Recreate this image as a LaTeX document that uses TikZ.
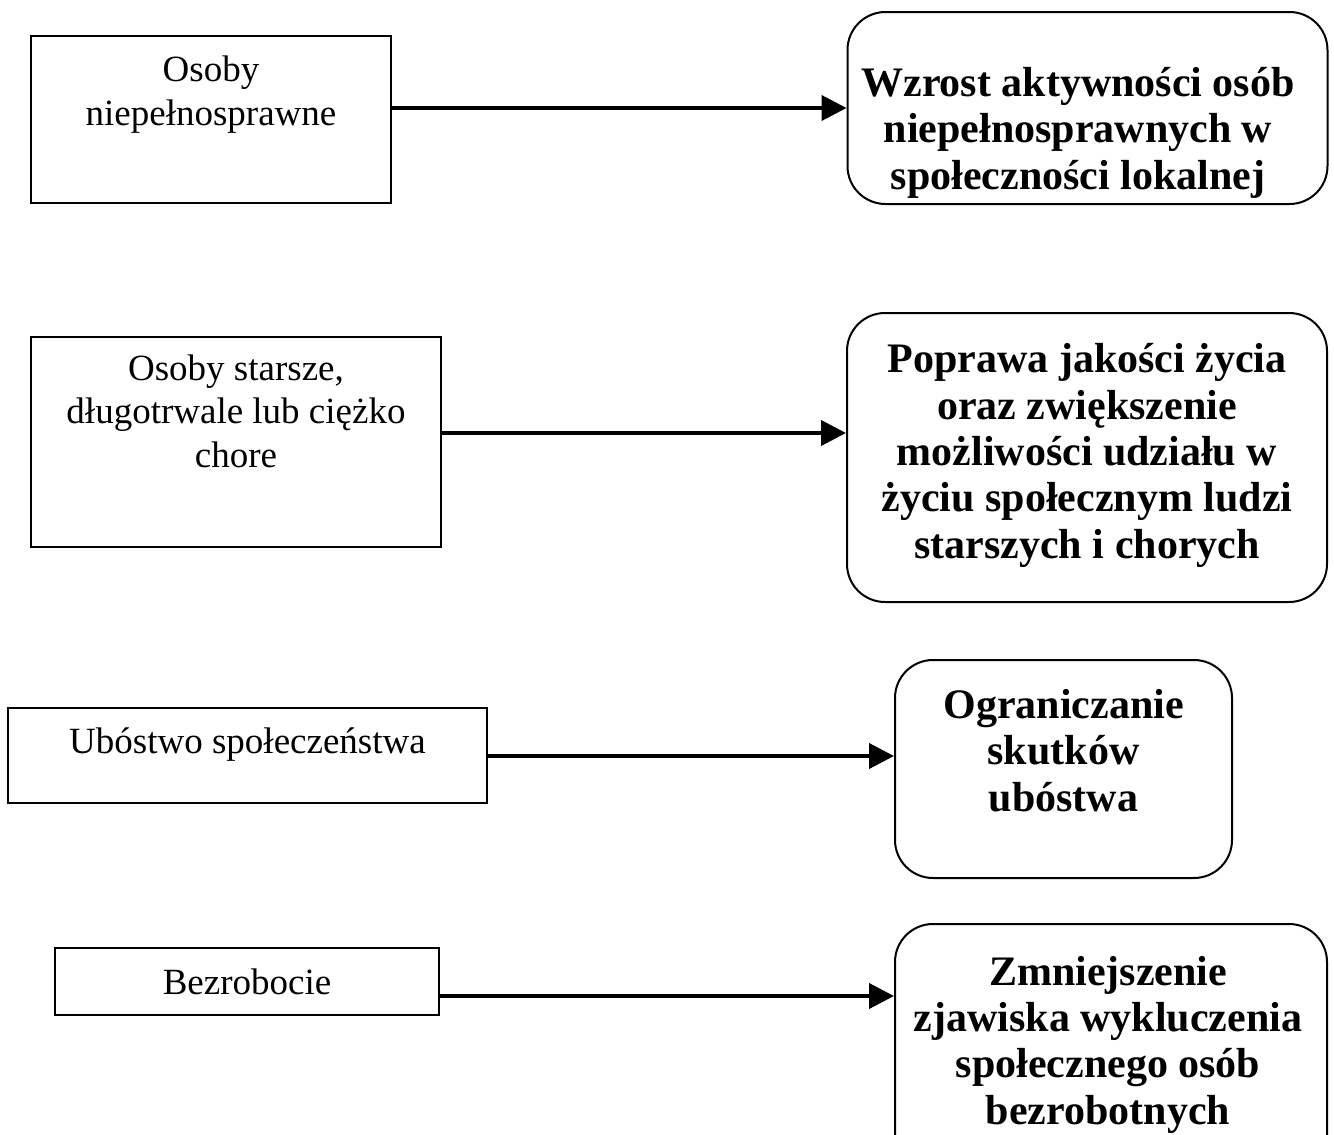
\documentclass[tikz,border=0pt]{standalone}
\usepackage{fontspec}
\setmainfont{Liberation Serif}
\usetikzlibrary{arrows.meta}
\tikzset{
  sqbox/.style={draw, line width=2pt, inner sep=0pt},
  rbox/.style={draw, line width=2pt, inner sep=0pt, rounded corners=38pt},
  srctext/.style={anchor=base, align=center, inner sep=0pt, font=\fontsize{37}{43.5}\selectfont},
  goaltext/.style={anchor=base, align=center, inner sep=0pt, font=\fontsize{42}{46.3}\selectfont\bfseries},
  conn/.style={line width=4pt, -{Triangle[length=25pt, width=25pt]}}
}
\begin{document}
\begin{tikzpicture}[x=1pt, y=-1pt]
\clip (0,0) rectangle (1334,1135);
% left boxes
\node[sqbox, minimum width=360pt, minimum height=167pt] (b1) at (211,119.5) {};
\node[sqbox, minimum width=410pt, minimum height=210pt] (b2) at (236,442) {};
\node[sqbox, minimum width=479pt, minimum height=95pt] (b3) at (247.5,755.5) {};
\node[sqbox, minimum width=384pt, minimum height=67pt] (b4) at (247,981.5) {};
% right rounded boxes
\node[rbox, minimum width=480pt, minimum height=192pt] (r1) at (1087.5,108) {};
\node[rbox, minimum width=480pt, minimum height=289pt] (r2) at (1087,457.5) {};
\node[rbox, minimum width=337pt, minimum height=218pt] (r3) at (1063.5,769) {};
\node[rbox, minimum width=432pt, minimum height=250pt] (r4) at (1111,1049) {};
% texts (anchor = baseline of last line)
\node[srctext] (t1) at (211,125) {Osoby\\niepełnosprawne};
\node[srctext] (t2) at (236,467) {Osoby starsze,\\długotrwale lub ciężko\\chore};
\node[srctext] (t3) at (247.5,753) {Ubóstwo społeczeństwa};
\node[srctext] (t4) at (247,994) {Bezrobocie};
\node[goaltext] (g1) at (1078,189) {Wzrost aktywności osób\\niepełnosprawnych w\\społeczności lokalnej};
\node[goaltext] (g2) at (1087,558) {Poprawa jakości życia\\oraz zwiększenie\\możliwości udziału w\\życiu społecznym ludzi\\starszych i chorych};
\node[goaltext] (g3) at (1063.5,811) {Ograniczanie\\skutków\\ubóstwa};
\node[goaltext] (g4) at (1108,1124) {Zmniejszenie\\zjawiska wykluczenia\\społecznego osób\\bezrobotnych};
% connectors
\draw[conn] (b1.east |- r1.west) -- (r1.west);
\draw[conn] (b2.east |- 0,433) -- (r2.west |- 0,433);
\draw[conn] (b3.east |- 0,756) -- (r3.west |- 0,756);
\draw[conn] (b4.east |- 0,996) -- (r4.west |- 0,996);
\end{tikzpicture}
\end{document}
